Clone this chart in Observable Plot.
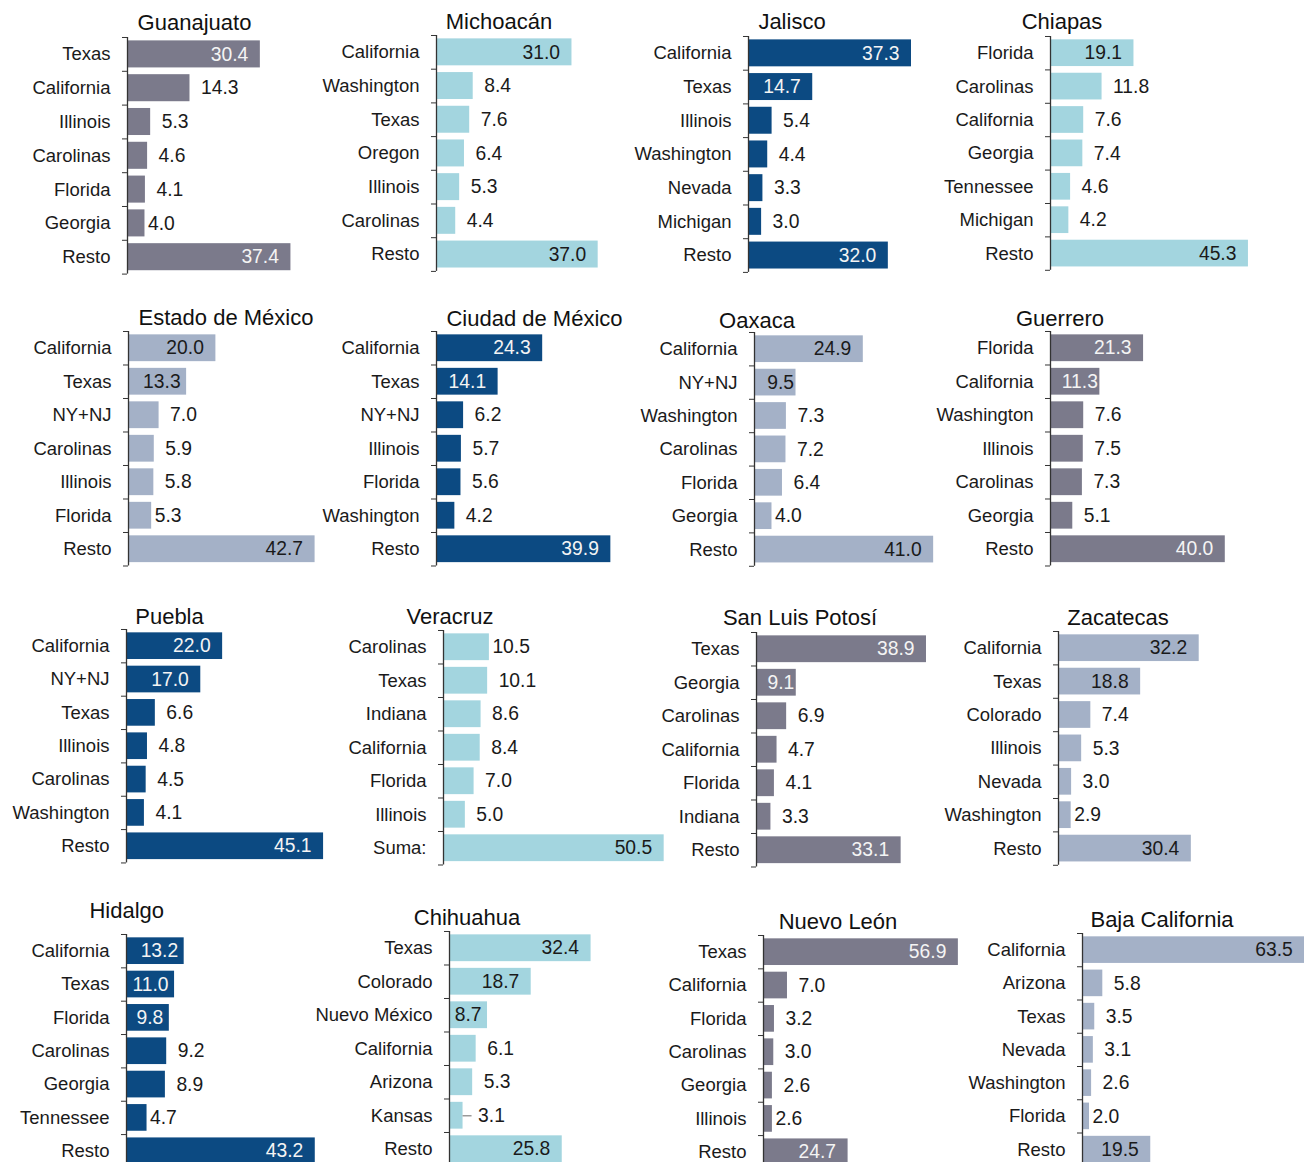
<!DOCTYPE html>
<html><head><meta charset="utf-8">
<script src="https://cdn.jsdelivr.net/npm/d3@7"></script>
<script src="https://cdn.jsdelivr.net/npm/@observablehq/plot@0.6"></script>
<style>
html,body{margin:0;padding:0;background:#fff;}
#chart{position:relative;width:1304px;height:1162px;overflow:hidden;font-family:"Liberation Sans", Arial, sans-serif;}
.ttl{position:absolute;width:300px;text-align:center;font-size:22px;line-height:22px;color:#111;white-space:nowrap;}
</style></head><body><div id="chart"></div>
<script>
// ---------- DATA ----------
const titles = ["Guanajuato","Michoacán","Jalisco","Chiapas","Estado de México","Ciudad de México","Oaxaca","Guerrero","Puebla","Veracruz","San Luis Potosí","Zacatecas","Hidalgo","Chihuahua","Nuevo León","Baja California"];

const catsGuanajuato = ["Texas","California","Illinois","Carolinas","Florida","Georgia","Resto"];
const valsGuanajuato = [30.4,14.3,5.3,4.6,4.1,4.0,37.4];
const catsMichoacan = ["California","Washington","Texas","Oregon","Illinois","Carolinas","Resto"];
const valsMichoacan = [31.0,8.4,7.6,6.4,5.3,4.4,37.0];
const catsJalisco = ["California","Texas","Illinois","Washington","Nevada","Michigan","Resto"];
const valsJalisco = [37.3,14.7,5.4,4.4,3.3,3.0,32.0];
const catsChiapas = ["Florida","Carolinas","California","Georgia","Tennessee","Michigan","Resto"];
const valsChiapas = [19.1,11.8,7.6,7.4,4.6,4.2,45.3];
const catsEdomex = ["California","Texas","NY+NJ","Carolinas","Illinois","Florida","Resto"];
const valsEdomex = [20.0,13.3,7.0,5.9,5.8,5.3,42.7];
const catsCdmx = ["California","Texas","NY+NJ","Illinois","Florida","Washington","Resto"];
const valsCdmx = [24.3,14.1,6.2,5.7,5.6,4.2,39.9];
const catsOaxaca = ["California","NY+NJ","Washington","Carolinas","Florida","Georgia","Resto"];
const valsOaxaca = [24.9,9.5,7.3,7.2,6.4,4.0,41.0];
const catsGuerrero = ["Florida","California","Washington","Illinois","Carolinas","Georgia","Resto"];
const valsGuerrero = [21.3,11.3,7.6,7.5,7.3,5.1,40.0];
const catsPuebla = ["California","NY+NJ","Texas","Illinois","Carolinas","Washington","Resto"];
const valsPuebla = [22.0,17.0,6.6,4.8,4.5,4.1,45.1];
const catsVeracruz = ["Carolinas","Texas","Indiana","California","Florida","Illinois","Suma:"];
const valsVeracruz = [10.5,10.1,8.6,8.4,7.0,5.0,50.5];
const catsSlp = ["Texas","Georgia","Carolinas","California","Florida","Indiana","Resto"];
const valsSlp = [38.9,9.1,6.9,4.7,4.1,3.3,33.1];
const catsZacatecas = ["California","Texas","Colorado","Illinois","Nevada","Washington","Resto"];
const valsZacatecas = [32.2,18.8,7.4,5.3,3.0,2.9,30.4];
const catsHidalgo = ["California","Texas","Florida","Carolinas","Georgia","Tennessee","Resto"];
const valsHidalgo = [13.2,11.0,9.8,9.2,8.9,4.7,43.2];
const catsChihuahua = ["Texas","Colorado","Nuevo México","California","Arizona","Kansas","Resto"];
const valsChihuahua = [32.4,18.7,8.7,6.1,5.3,3.1,25.8];
const catsNuevoLeon = ["Texas","California","Florida","Carolinas","Georgia","Illinois","Resto"];
const valsNuevoLeon = [56.9,7.0,3.2,3.0,2.6,2.6,24.7];
const catsBaja = ["California","Arizona","Texas","Nevada","Washington","Florida","Resto"];
const valsBaja = [63.5,5.8,3.5,3.1,2.6,2.0,19.5];

const allCats = [catsGuanajuato,catsMichoacan,catsJalisco,catsChiapas,catsEdomex,catsCdmx,catsOaxaca,catsGuerrero,catsPuebla,catsVeracruz,catsSlp,catsZacatecas,catsHidalgo,catsChihuahua,catsNuevoLeon,catsBaja];
const allVals = [valsGuanajuato,valsMichoacan,valsJalisco,valsChiapas,valsEdomex,valsCdmx,valsOaxaca,valsGuerrero,valsPuebla,valsVeracruz,valsSlp,valsZacatecas,valsHidalgo,valsChihuahua,valsNuevoLeon,valsBaja];

// ---------- STYLE / LAYOUT ----------
const palette = {gray:"#7b7a8b", light:"#a3d5df", navy:"#0c4a82", steel:"#a4b1c7"};
const panelColor = ["gray","light","navy","light","steel","navy","steel","gray","navy","light","gray","steel","navy","light","gray","steel"];
// label placement: i/j/k inside (end padding large/medium/small), o outside, t outside tight, l outside with leader line
const labelModes = ["iooooti","ioooooi","iiooooi","ioooooi","ijoooti","iiooooi","ikoooti","ikooooi","iiooooi","toooooi","ikooooi","iioooti","jjjooti","iijooli","iooooti","iooooti"];
const axisX = [126.7,436.3,748.3,1050,128.3,436,754,1050,125.5,442.7,756,1058,125.7,449,763.3,1081.7];
const axisTop = [37.1,35.15,36.15,36.3,331.25,331.25,332.3,331.25,629.3,630.25,632.25,631.3,934.3,931.25,935.3,933.4];
const steps = [33.8,33.7,33.7,33.4,33.5,33.5,33.4,33.5,33.35,33.5,33.5,33.4,33.35,33.5,33.35,33.25];
const titleCx = [194.5,499,792,1062,226,534.5,757,1060,169.5,450,800,1118,126.7,467,838,1162];
const titleBase = [30.5,29.5,29.5,29.5,325.5,326.5,328.5,326.5,624.5,624.5,625.5,625.5,918.2,925.5,929.5,927.2];
const ppu = [4.37,4.37,4.37,4.37,4.37,4.37,4.37,4.37,4.37,4.37,4.37,4.37,4.37,4.37,3.425,3.5];

const chart = document.getElementById("chart");
const mT = 2, mB = 2, mL = 150, mR = 10, xMax = 70;
const pads = {i:12, j:6, k:2, o:11, t:3, l:15};
const fontFam = "'Liberation Sans', Arial, sans-serif";

titles.forEach((title, k) => {
  const cats = allCats[k], vals = allVals[k];
  const step = steps[k];
  const rows = cats.map((c, i) => ({cat: c, value: vals[i], mode: labelModes[k][i]}));
  const color = palette[panelColor[k]];
  const darkBar = panelColor[k] === "gray" || panelColor[k] === "navy";
  const insideFill = darkBar ? "#f4f4f4" : "#1a1a1a";
  const width = mL + xMax * ppu[k] + mR;
  const height = mT + mB + 7 * step;
  const textMarks = [];
  for (const m of ["i","j","k"]) {
    textMarks.push(Plot.text(rows.filter(d => d.mode === m), {x: "value", y: "cat", text: d => d.value.toFixed(1), textAnchor: "end", dx: -pads[m], fill: insideFill, fontSize: 19.3}));
  }
  for (const m of ["o","t","l"]) {
    textMarks.push(Plot.text(rows.filter(d => d.mode === m), {x: "value", y: "cat", text: d => d.value.toFixed(1), textAnchor: "start", dx: pads[m], fill: "#1a1a1a", fontSize: 19.3}));
  }
  const leaders = rows.filter(d => d.mode === "l");
  const svg = Plot.plot({
    width, height, marginLeft: mL, marginRight: mR, marginTop: mT, marginBottom: mB,
    style: `background: transparent; overflow: visible; font-family: ${fontFam}; color: #1a1a1a;`,
    x: {domain: [0, xMax], axis: null},
    y: {domain: cats, paddingInner: 0.2, paddingOuter: 0.1, round: false, label: null},
    marks: [
      Plot.barX(rows, {x: "value", y: "cat", fill: color}),
      Plot.ruleY(leaders, {y: "cat", x1: "value", x2: "value", insetLeft: 0, insetRight: -9, stroke: "#9a9a9a", strokeWidth: 1.5}),
      Plot.ruleX([0], {stroke: "#333", strokeWidth: 1.3}),
      Plot.axisY({tickSize: 0, tickPadding: 17, fontSize: 18.5, label: null}),
      Plot.axisY({tickSize: 5, tickFormat: () => "", dy: -step / 2, label: null, stroke: "#333"}),
      Plot.axisY([cats[6]], {tickSize: 5, tickFormat: () => "", dy: step / 2, label: null, stroke: "#333"}),
      ...textMarks
    ]
  });
  svg.style.position = "absolute";
  svg.style.left = (axisX[k] - mL) + "px";
  svg.style.top = (axisTop[k] - mT) + "px";
  svg.style.maxWidth = "none";
  chart.appendChild(svg);

  const t = document.createElement("div");
  t.className = "ttl";
  t.textContent = title;
  t.style.left = (titleCx[k] - 150) + "px";
  t.style.top = (titleBase[k] - 0.8465 * 22) + "px";
  chart.appendChild(t);
});
</script></body></html>
